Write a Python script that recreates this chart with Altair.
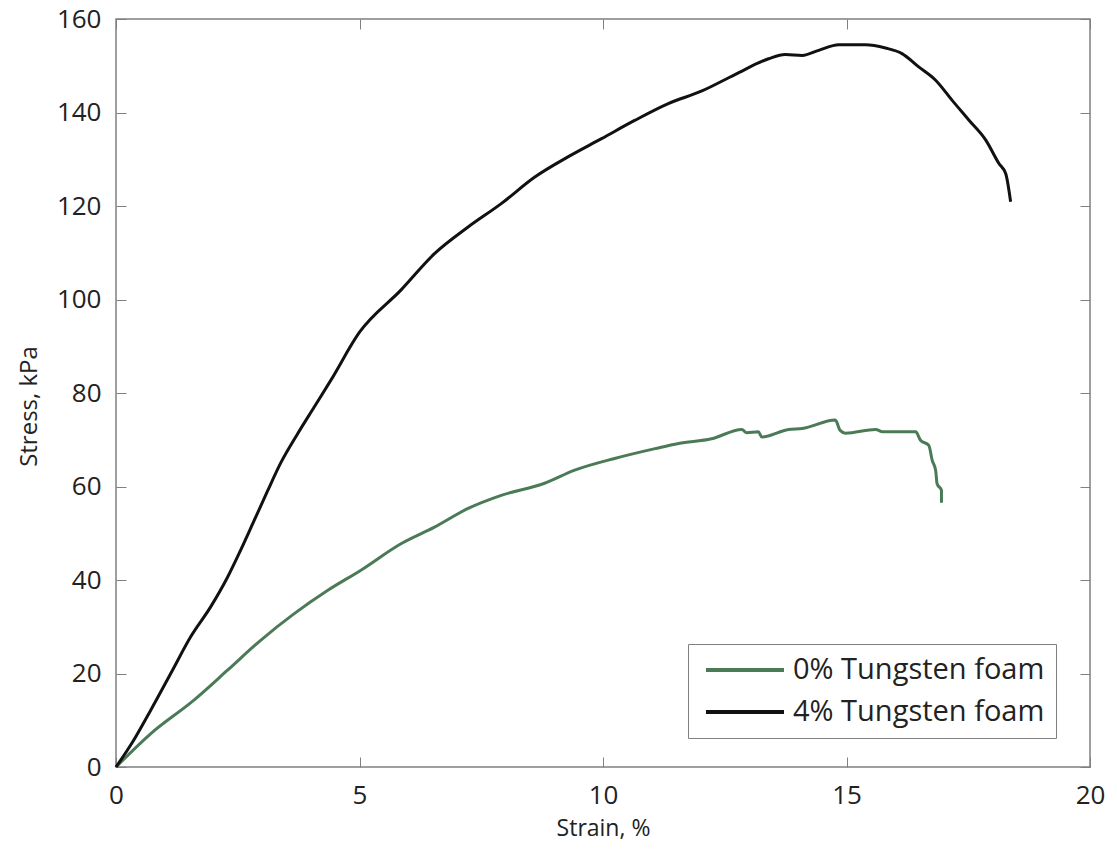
import altair as alt
import pandas as pd

# ---- data ----
series_names = ["0% Tungsten foam", "4% Tungsten foam"]
series_colors = ["#4b7a56", "#111111"]

strain_0 = [0, 0.71, 1.60, 2.29, 2.97, 3.66, 4.35, 5.03, 5.86, 6.54, 7.23, 7.91,
            8.80, 9.42, 10.24, 11.07, 11.55, 12.23, 12.85, 12.95, 13.19, 13.26,
            13.81, 14.09, 14.77, 14.87, 14.98, 15.60, 15.74, 16.42, 16.52, 16.69,
            16.76, 16.83, 16.86, 16.95, 16.95]
stress_0 = [0, 7.1, 14.3, 20.7, 27.1, 32.8, 37.8, 42.1, 47.8, 51.3, 55.3, 58.1,
            60.7, 63.5, 66.0, 68.1, 69.2, 70.2, 72.2, 71.5, 71.7, 70.6,
            72.2, 72.4, 74.2, 72.0, 71.4, 72.2, 71.7, 71.7, 69.9, 68.8,
            65.6, 63.5, 60.6, 59.2, 56.5]

strain_4 = [0, 0.35, 0.71, 1.16, 1.53, 1.94, 2.29, 2.56, 2.84, 3.11, 3.38, 3.73,
            4.07, 4.41, 5.0, 5.85, 6.54, 7.23, 7.91, 8.60, 9.28, 9.97, 10.65,
            11.34, 12.03, 12.71, 13.40, 13.74, 14.09, 14.43, 14.84, 15.39, 15.80,
            16.14, 16.49, 16.83, 17.17, 17.52, 17.86, 18.13, 18.27, 18.37]
stress_4 = [0, 5.5, 12.1, 20.7, 27.8, 34.2, 40.6, 46.4, 52.8, 59.0, 65.0, 71.3,
            77.0, 82.7, 93.0, 102.0, 109.8, 115.5, 120.5, 126.2, 130.5, 134.4, 138.3,
            141.9, 144.6, 148.1, 151.5, 152.4, 152.2, 153.3, 154.5, 154.5, 153.8,
            152.6, 149.7, 146.9, 142.6, 138.3, 134.1, 129.1, 126.9, 120.9]

x_ticks = [0, 5, 10, 15, 20]
y_ticks = [0, 20, 40, 60, 80, 100, 120, 140, 160]

rows = []
for name, xs, ys in [(series_names[0], strain_0, stress_0),
                     (series_names[1], strain_4, stress_4)]:
    for i, (xv, yv) in enumerate(zip(xs, ys)):
        rows.append({"series": name, "strain": xv, "stress": yv, "idx": i})
df = pd.DataFrame(rows)

FONT = "Open Sans"
TXT = "#222222"
FRAME = "#808080"
W, H = 974, 748

xscale = alt.Scale(domain=[0, 20], nice=False, zero=False)
yscale = alt.Scale(domain=[0, 160], nice=False)

common_axis = dict(offset=-10, tickSize=10, domain=False, grid=False,
                   tickColor=FRAME, tickWidth=1, labelFlush=False)

lines = alt.Chart(df).mark_line(strokeWidth=3, interpolate="monotone").encode(
    x=alt.X("strain:Q", scale=xscale,
            axis=alt.Axis(orient="bottom", values=x_ticks, format="d",
                          title="Strain, %", labelPadding=15, titlePadding=9,
                          titleFontSize=23, **common_axis)),
    y=alt.Y("stress:Q", scale=yscale,
            axis=alt.Axis(orient="left", values=y_ticks, format="d",
                          title="Stress, kPa", labelPadding=15, titlePadding=15,
                          titleFontSize=24, titleY=387, **common_axis)),
    color=alt.Color("series:N",
                    scale=alt.Scale(domain=series_names, range=series_colors),
                    legend=alt.Legend(
                        title=None, orient="none", legendX=572, legendY=625,
                        symbolType="stroke", symbolSize=6084, symbolStrokeWidth=4,
                        clipHeight=30, labelFontSize=29, labelFont=FONT,
                        labelColor=TXT, labelLimit=500, padding=11, rowPadding=12,
                        strokeColor=FRAME, fillColor="white",
                        labelOffset=7, symbolOffset=5)),
    order="idx:Q",
)

mirror = alt.Chart(df).mark_line(opacity=0).encode(
    x=alt.X("strain:Q", scale=xscale,
            axis=alt.Axis(orient="top", values=x_ticks, labels=False, title=None,
                          **common_axis)),
    y=alt.Y("stress:Q", scale=yscale,
            axis=alt.Axis(orient="right", values=y_ticks, labels=False, title=None,
                          **common_axis)),
    detail="series:N",
    order="idx:Q",
)

chart = alt.layer(lines, mirror).resolve_scale(
    x="independent", y="independent"
).properties(
    width=W, height=H,
    autosize=alt.AutoSizeParams(type="none"),
    padding={"left": 108, "top": 11, "right": 15, "bottom": 76},
    background="white",
).configure_view(
    stroke=FRAME, strokeWidth=1.5
).configure_axis(
    labelFont=FONT, titleFont=FONT, labelFontSize=26,
    labelColor=TXT, titleColor=TXT, titleFontWeight="normal",
)

chart.save("out.html", embed_options={"renderer": "svg", "actions": False})
